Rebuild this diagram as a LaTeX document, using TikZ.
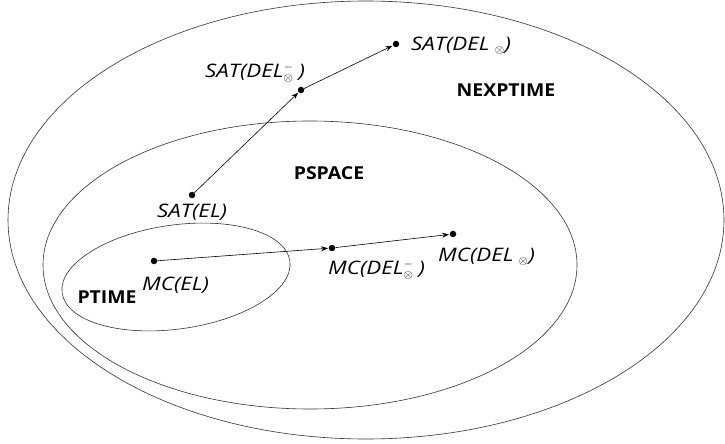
\documentclass[tikz,border=0pt]{standalone}
\usepackage{fontspec}
\setmainfont{Open Sans}
\newfontfamily\probfont[FakeStretch=1.2]{Open Sans}
\newfontfamily\clsfont[FakeStretch=1.09]{Open Sans}
\usetikzlibrary{arrows.meta}
\tikzset{
  setline/.style={draw=black!80, line width=0.6pt},
  dotnode/.style={circle, fill=black, inner sep=0pt, minimum size=6.5pt},
  problem/.style={inner sep=0pt, font=\probfont\fontsize{18.6}{22}\selectfont\itshape},
  cls/.style={inner sep=0pt, font=\clsfont\fontsize{17.8}{21}\selectfont\bfseries},
  arr/.style={draw=black, line width=0.6pt, -{Stealth[length=7pt,width=5pt]}, shorten >=0.5pt}
}
\begin{document}
\begin{tikzpicture}[x=1pt,y=-1pt]
\useasboundingbox (0,0) rectangle (725,444);
% sets
\draw[setline] (366,220) ellipse [x radius=358pt, y radius=219pt];
\draw[setline] (310,265) ellipse [x radius=267pt, y radius=144pt];
\draw[setline, rotate around={8:(176,277)}] (176,277) ellipse [x radius=115pt, y radius=52pt];
% class labels
\node[cls] (nexp) at (506,90) {NEXPTIME};
\node[cls] (pspace) at (329,173) {PSPACE};
\node[cls] (ptime) at (107,297) {PTIME};
% dots
\node[dotnode] (satel) at (192,195) {};
\node[dotnode] (mcel) at (154,261) {};
\node[dotnode] (mcdelm) at (332,248) {};
\node[dotnode] (mcdel) at (453,234) {};
\node[dotnode] (satdelm) at (301,90) {};
\node[dotnode] (satdel) at (396,44) {};
% problem labels
\node[problem, anchor=west] (lsatel) at (157,212) {SAT(EL)};
\node[problem, anchor=west] (lmcel) at (142,285) {MC(EL)};
\node[problem, anchor=west] (lmcdelm) at (328,270) {MC(DEL$^{-}_{\otimes}$\;)};
\node[problem, anchor=west] (lmcdel) at (438,257) {MC(DEL\;$_{\otimes}$)};
\node[problem, anchor=west] (lsatdelm) at (205,73) {SAT(DEL$^{-}_{\otimes}$\;)};
\node[problem, anchor=west] (lsatdel) at (411,46) {SAT(DEL\;$_{\otimes}$)};
% arrows
\draw[arr] (satel) -- (satdelm);
\draw[arr] (satdelm) -- (satdel);
\draw[arr] (mcel) -- (mcdelm);
\draw[arr] (mcdelm) -- (mcdel);
\end{tikzpicture}
\end{document}
